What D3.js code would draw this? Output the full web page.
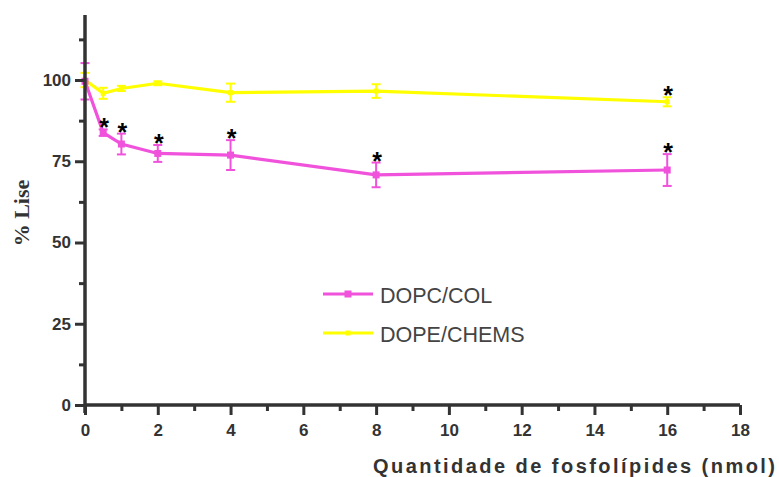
<!DOCTYPE html>
<html><head><meta charset="utf-8">
<script src="https://cdn.jsdelivr.net/npm/d3@7"></script>
<style>body{margin:0;background:#fff}svg{display:block}</style>
</head><body>
<svg id="c" width="779" height="477"></svg>
<script>
const xValues = [0, 0.5, 1, 2, 4, 8, 16];
const dopcCol = [99.6, 83.8, 80.3, 77.4, 76.9, 70.8, 72.3];
const dopcErr = [5.6, 1.0, 3.2, 2.6, 4.6, 3.8, 4.9];
const dopeChems = [100, 95.9, 97.4, 99.0, 96.1, 96.6, 93.3];
const dopeErr = [2.2, 1.7, 0.8, 0.6, 2.8, 2.1, 1.4];
const dopcStars = [false, true, true, true, true, true, true];
const dopeStars = [false, false, false, false, false, false, true];
const xTicks = [0, 2, 4, 6, 8, 10, 12, 14, 16, 18];
const yTicks = [0, 25, 50, 75, 100];
const seriesNames = ["DOPC/COL", "DOPE/CHEMS"];
const colors = ["#f052dc", "#ffff00"];

const svg = d3.select("#c");
const x = d3.scaleLinear().domain([0, 18]).range([85, 740]);
const y = d3.scaleLinear().domain([0, 120]).range([405, 15]);
const axisColor = "#333";
const sans = "Liberation Sans, Arial, sans-serif";

const series = [
  {name: seriesNames[0], vals: dopcCol, err: dopcErr, stars: dopcStars, color: colors[0], marker: 7},
  {name: seriesNames[1], vals: dopeChems, err: dopeErr, stars: dopeStars, color: colors[1], marker: 5}
];

const line = d3.line().x(d => x(d[0])).y(d => y(d[1]));
[series[1], series[0]].forEach(s => {
  const g = svg.append("g");
  const pts = xValues.map((xv, i) => [xv, s.vals[i], s.err[i]]);
  g.append("path").attr("d", line(pts)).attr("fill", "none")
    .attr("stroke", s.color).attr("stroke-width", 3.2);
  pts.forEach(p => {
    const cx = x(p[0]);
    g.append("line").attr("x1", cx).attr("x2", cx).attr("y1", y(p[1] - p[2])).attr("y2", y(p[1] + p[2]))
      .attr("stroke", s.color).attr("stroke-width", 2);
    [p[1] - p[2], p[1] + p[2]].forEach(v => {
      g.append("line").attr("x1", cx - 4.5).attr("x2", cx + 4.5).attr("y1", y(v)).attr("y2", y(v))
        .attr("stroke", s.color).attr("stroke-width", 2);
    });
    g.append("rect").attr("x", cx - s.marker / 2).attr("y", y(p[1]) - s.marker / 2)
      .attr("width", s.marker).attr("height", s.marker).attr("fill", s.color);
  });
});

// asterisks
series.forEach(s => {
  xValues.forEach((xv, i) => {
    if (!s.stars[i]) return;
    svg.append("text").attr("x", x(xv) + 1).attr("y", y(s.vals[i] + s.err[i]) + 7)
      .attr("text-anchor", "middle").attr("font-family", sans)
      .attr("font-weight", "bold").attr("font-size", 25).attr("fill", "#000").text("*");
  });
});

// axes
const xAxis = svg.append("g").attr("transform", "translate(0,405)")
  .call(d3.axisBottom(x).tickValues(xTicks).tickSize(10).tickPadding(9).tickSizeOuter(0));
const xMinor = svg.append("g").attr("transform", "translate(0,405)")
  .call(d3.axisBottom(x).tickValues(d3.range(1, 18, 2)).tickSize(6).tickFormat("").tickSizeOuter(0));
const yAxis = svg.append("g").attr("transform", "translate(85,0)")
  .call(d3.axisLeft(y).tickValues(yTicks).tickSize(10).tickPadding(4).tickSizeOuter(0));
const yMinor = svg.append("g").attr("transform", "translate(85,0)")
  .call(d3.axisLeft(y).tickValues([12.5, 37.5, 62.5, 87.5, 112.5]).tickSize(6).tickFormat("").tickSizeOuter(0));
xMinor.select(".domain").remove();
yMinor.select(".domain").remove();
[xAxis, yAxis, xMinor, yMinor].forEach(a => {
  a.selectAll("line").attr("stroke", axisColor).attr("stroke-width", 3);
  a.selectAll(".domain").attr("stroke", axisColor).attr("stroke-width", 3.5);
  a.selectAll("text").attr("fill", axisColor).attr("font-family", sans)
    .attr("font-weight", "bold").attr("font-size", 17);
});
yAxis.select(".domain").attr("d", "M0," + y(120) + "V" + (y(0) + 8));
xAxis.select(".domain").attr("d", "M" + (x(0)) + ",0H" + x(18));

// axis titles
svg.append("text").attr("transform", "translate(29,213) rotate(-90)").attr("text-anchor", "middle")
  .attr("font-family", "Liberation Serif, Times New Roman, serif").attr("font-weight", "bold")
  .attr("font-size", 22).attr("fill", "#333").text("% Lise");
svg.append("text").attr("x", 373).attr("y", 473)
  .attr("font-family", sans).attr("font-weight", "bold")
  .attr("font-size", 20).attr("textLength", 402).attr("lengthAdjust", "spacing")
  .attr("fill", "#333").text("Quantidade de fosfolípides (nmol)");

// legend
series.forEach((s, i) => {
  const ly = 294 + i * 39;
  svg.append("line").attr("x1", 323).attr("x2", 373).attr("y1", ly).attr("y2", ly)
    .attr("stroke", s.color).attr("stroke-width", 3.2);
  svg.append("rect").attr("x", 348 - s.marker / 2).attr("y", ly - s.marker / 2)
    .attr("width", s.marker).attr("height", s.marker).attr("fill", s.color);
  svg.append("text").attr("x", 380).attr("y", ly + 8.5)
    .attr("font-family", sans).attr("font-size", 21.5)
    .attr("fill", "#444").text(s.name);
});
</script>
</body></html>
